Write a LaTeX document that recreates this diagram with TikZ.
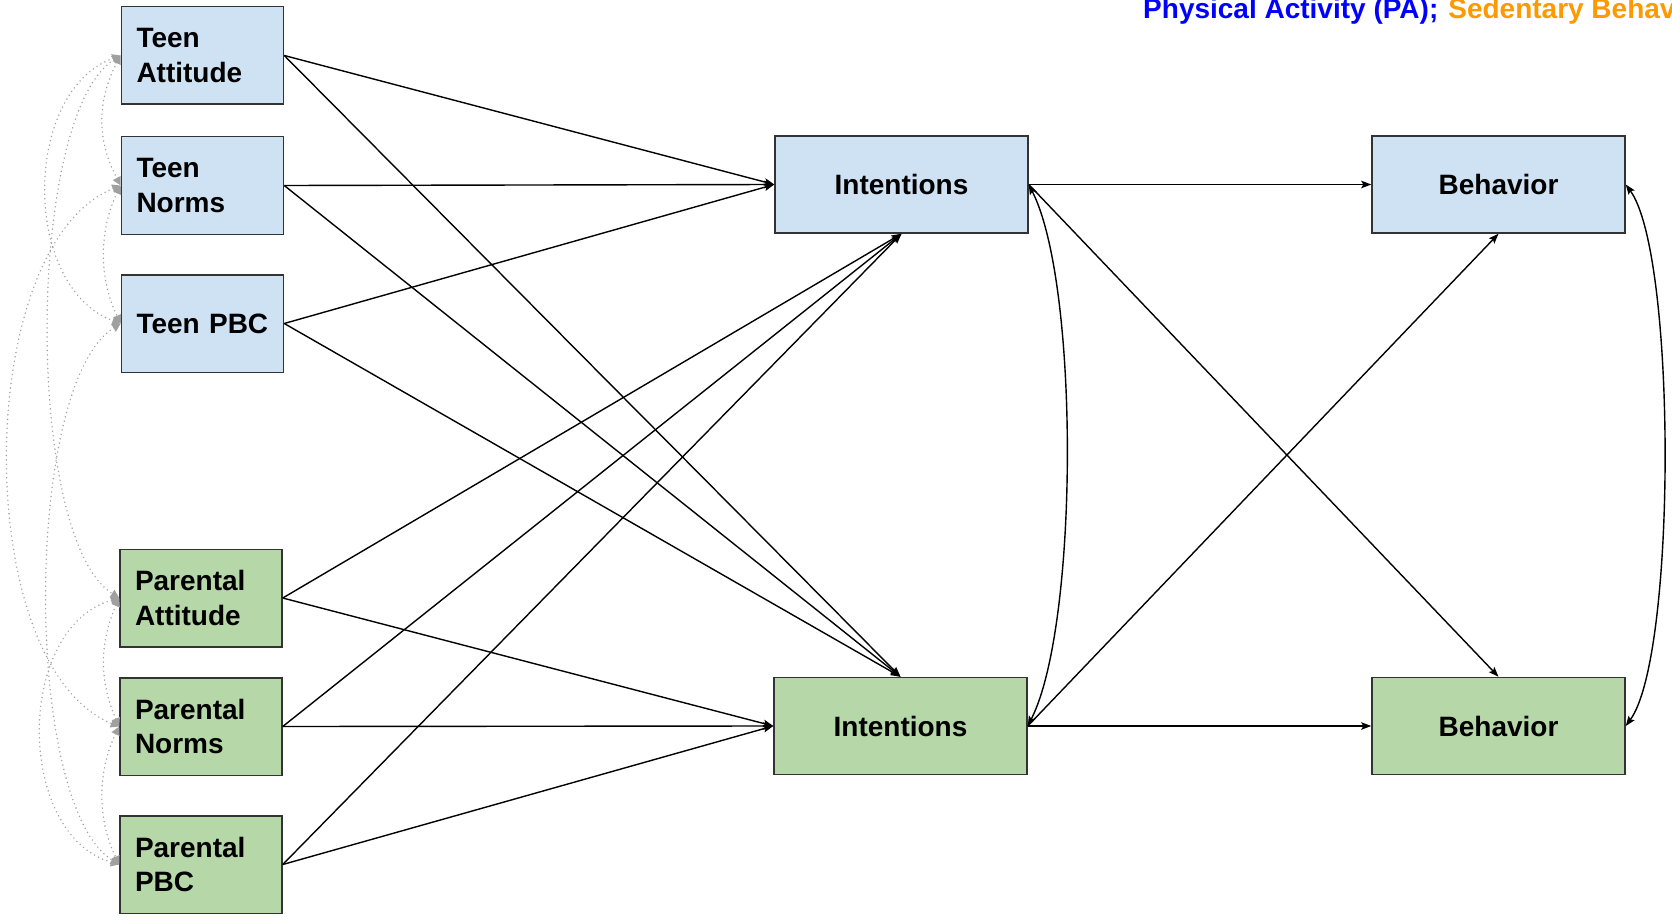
\documentclass[tikz,border=0pt]{standalone}
\usepackage{fontspec}
\setmainfont{Liberation Sans}
\usetikzlibrary{arrows.meta}
\definecolor{teenfill}{HTML}{CFE2F3}
\definecolor{parfill}{HTML}{B6D7A8}
\definecolor{boxline}{HTML}{333333}
\definecolor{covgray}{HTML}{A0A0A0}
\definecolor{pablue}{HTML}{0000FF}
\definecolor{sborange}{HTML}{FF9900}
\begin{document}
\begin{tikzpicture}[x=1pt,y=-1pt,
  box/.style={draw=boxline, line width=1.5pt,
    font=\fontsize{28}{34.5}\selectfont\bfseries, inner ysep=0pt},
  leftbox/.style={box, text width=132pt, align=left, inner xsep=15pt,
    minimum height=97.5pt},
  midbox/.style={box, minimum width=253pt, minimum height=97pt, align=center},
  teen/.style={fill=teenfill},
  parent/.style={fill=parfill},
  link/.style={-{Stealth[length=10pt,width=7.5pt,inset=2pt]},
    line width=1.4pt, black},
  mutual/.style={{Stealth[length=10pt,width=7.5pt,inset=2pt]}-{Stealth[length=10pt,width=7.5pt,inset=2pt]},
    line width=1.4pt, black},
  cov/.style={{Triangle[length=8.5pt,width=8.5pt]}-{Triangle[length=8.5pt,width=8.5pt]},
    draw=covgray, line width=1.6pt, dash pattern=on 0pt off 4.5pt, line cap=round}
]
\useasboundingbox (0,0) rectangle (1672,920);
\clip (0,0) rectangle (1672,920);

% predictors: teen
\node[leftbox,teen] (ta)   at (202.5,55.5)  {Teen\\Attitude};
\node[leftbox,teen] (tn)   at (202.5,185.5) {Teen\\Norms};
\node[leftbox,teen] (tpbc) at (202.5,323.5) {Teen PBC};
% predictors: parental
\node[leftbox,parent] (pa)   at (201,598)    {Parental\\Attitude};
\node[leftbox,parent] (pn)   at (201,726.5)  {Parental\\Norms};
\node[leftbox,parent] (ppbc) at (201,864.5)  {Parental\\PBC};
% intentions and behaviour
\node[midbox,teen]   (it) at (901.5,184.5) {Intentions};
\node[midbox,parent] (ib) at (900.5,726)   {Intentions};
\node[midbox,teen]   (bt) at (1498.5,184.5){Behavior};
\node[midbox,parent] (bb) at (1498.5,726)  {Behavior};

% legend line
\node[anchor=base west, inner sep=0pt, font=\fontsize{28}{33.5}\selectfont\bfseries,
  text=pablue] (hdr) at (1143,19)
  {Physical Activity (PA);\hspace{10pt}\textcolor{sborange}{Sedentary Behavior}};

% paths from predictors to intentions
\foreach \s in {ta,tn,tpbc} {
  \draw[link] (\s.east) -- (it.west);
  \draw[link] (\s.east) -- (ib.north);
}
\foreach \s in {pa,pn,ppbc} {
  \draw[link] (\s.east) -- (it.south);
  \draw[link] (\s.east) -- (ib.west);
}
% intentions to behaviour
\draw[link] (it.east) -- (bt.west);
\draw[link] (it.east) -- (bb.north);
\draw[link] (ib.east) -- (bb.west);
\draw[link] (ib.east) -- (bt.south);
% residual covariances
\draw[mutual] (it.east) .. controls +(51,100) and +(51,-100) .. (ib.east);
\draw[mutual] (bt.east) .. controls +(51,70) and +(51,-70) .. (bb.east);

% covariances among predictors
\draw[cov] (ta.west) .. controls +(-24,45) and +(-24,-45) .. (tn.west);
\draw[cov] (tn.west) .. controls +(-22,45) and +(-22,-45) .. (tpbc.west);
\draw[cov] (ta.west) .. controls +(-99,36) and +(-99,-36) .. (tpbc.west);
\draw[cov] (pa.west) .. controls +(-20,45) and +(-20,-45) .. (pn.west);
\draw[cov] (pn.west) .. controls +(-22,45) and +(-22,-45) .. (ppbc.west);
\draw[cov] (pa.west) .. controls +(-104,30) and +(-104,-30) .. (ppbc.west);
\draw[cov] (ta.west) .. controls +(-95,60) and +(-95,-60) .. (pa.west);
\draw[cov] (tn.west) .. controls +(-149,60) and +(-149,-60) .. (pn.west);
\draw[cov] (tpbc.west) .. controls +(-97,60) and +(-97,-60) .. (ppbc.west);
\end{tikzpicture}
\end{document}
